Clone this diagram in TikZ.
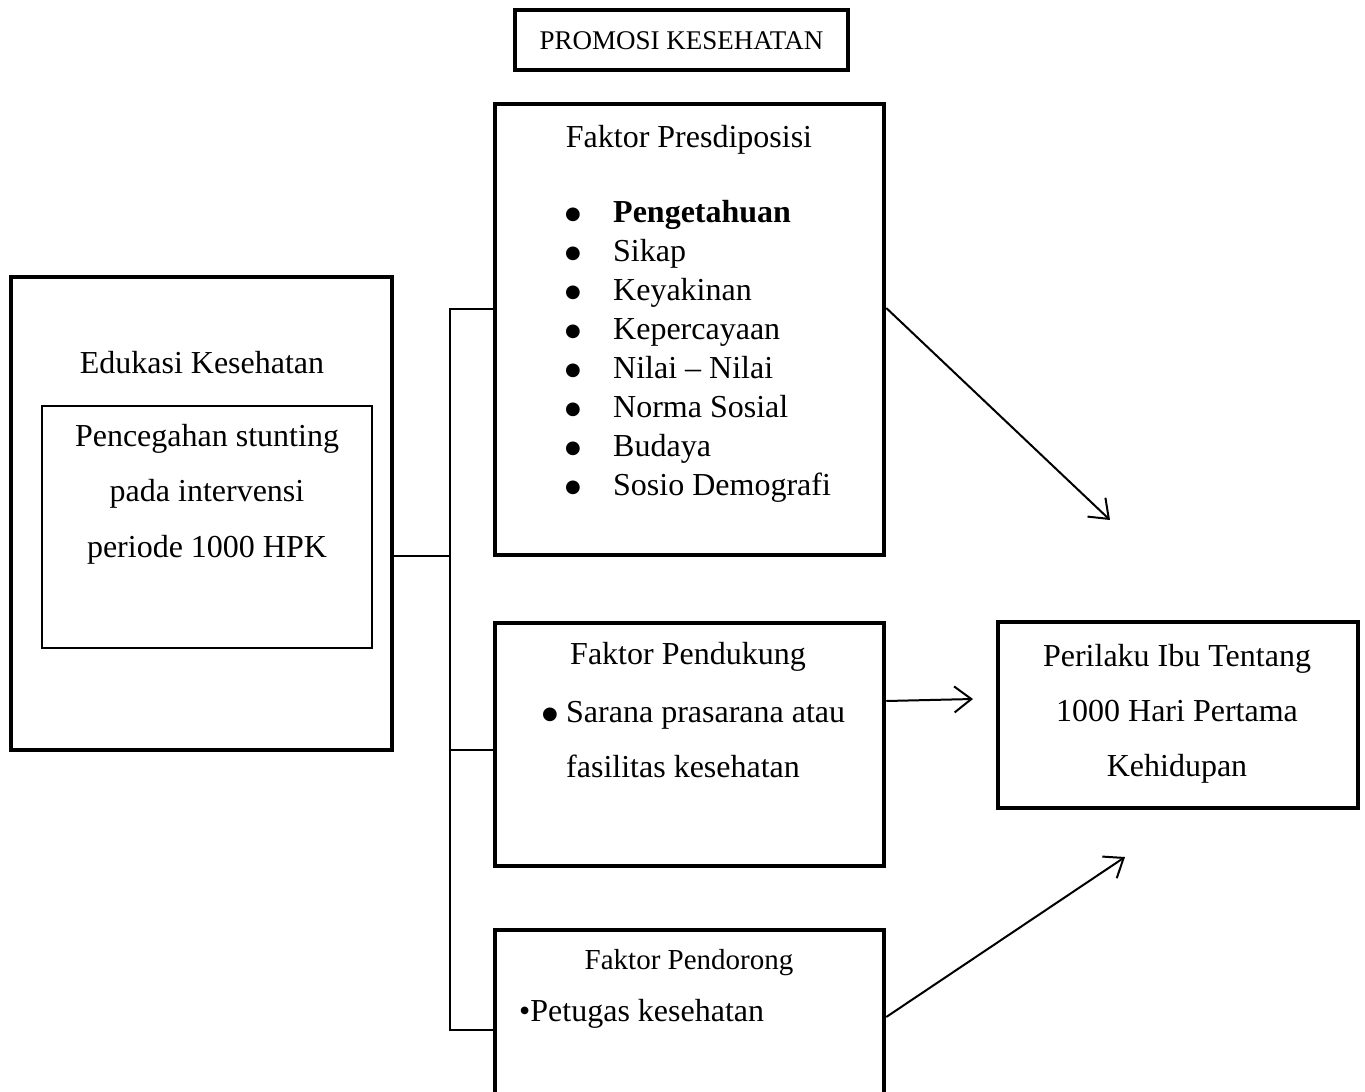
\documentclass[tikz,border=0pt]{standalone}
\usepackage{fontspec}
\setmainfont{Liberation Serif}
\newfontfamily\symfont{DejaVu Sans}
\usetikzlibrary{arrows.meta,calc}
\newcommand\mybul[1]{\makebox[#1][l]{\hspace{-1pt}\raisebox{3pt}{\symfont\fontsize{18}{18}\selectfont ●}}}
\begin{document}
\begin{tikzpicture}[x=1pt,y=-1pt,
  box/.style={draw,line width=4.5pt,inner sep=0pt},
  thinbox/.style={draw,line width=1.2pt,inner sep=0pt},
  conn/.style={line width=1.6pt},
  arr/.style={line width=2pt,-{Straight Barb[length=17pt,width=26pt,line width=2pt]}},
  txt/.style={font=\fontsize{32}{38}\selectfont,inner sep=0pt,anchor=base},
  ltxt/.style={txt,anchor=base west}
]
\useasboundingbox (0,0) rectangle (1365,1092);
\clip (0,0) rectangle (1365,1092);

% boxes
\node[box,minimum width=333pt,minimum height=60pt] (prom) at (681.5,40) {};
\node[box,minimum width=389pt,minimum height=451pt] (pres) at (689.5,329.5) {};
\node[box,minimum width=381pt,minimum height=473pt] (edu) at (201.5,513.5) {};
\node[thinbox,minimum width=330pt,minimum height=242pt] (inner) at (207,527) {};
\node[box,minimum width=389pt,minimum height=243pt] (pend) at (689.5,744.5) {};
\node[box,minimum width=389pt,minimum height=200pt] (pendor) at (689.5,1030) {};
\node[box,minimum width=360pt,minimum height=186pt] (peril) at (1178,715) {};

% texts
\node[txt,font=\fontsize{27}{31}\selectfont] (tprom) at (681.5,49) {PROMOSI KESEHATAN};
\node[txt] (tpres) at (689,147) {Faktor Presdiposisi};
\foreach \t [count=\i from 0] in {{\bfseries Pengetahuan},Sikap,Keyakinan,Kepercayaan,{Nilai – Nilai},{Norma Sosial},Budaya,{Sosio Demografi}}{
  \node[ltxt] (pi\i) at (566,222+39*\i) {\mybul{47pt}\t};
}
\node[txt] (tedu) at (202,373) {Edukasi Kesehatan};
\node[txt] (ti1) at (207,446) {Pencegahan stunting};
\node[txt] (ti2) at (207,501) {pada intervensi};
\node[txt] (ti3) at (207,557) {periode 1000 HPK};
\node[txt] (tpend) at (688,664) {Faktor Pendukung};
\node[ltxt] (pd1) at (543,722) {\mybul{23pt}Sarana prasarana atau};
\node[ltxt] (pd2) at (566,777) {fasilitas kesehatan};
\node[txt,font=\fontsize{29}{34}\selectfont] (tpendor) at (689,969) {Faktor Pendorong};
\node[ltxt] (pdr1) at (519,1021) {\textbullet Petugas kesehatan};
\node[txt] (tp1) at (1177,666) {Perilaku Ibu Tentang};
\node[txt] (tp2) at (1177,721) {1000 Hari Pertama};
\node[txt] (tp3) at (1177,776) {Kehidupan};

% bracket
\coordinate (bt) at (450,309);
\coordinate (bm) at (450,556);
\coordinate (bp) at (450,750);
\coordinate (bb) at (450,1030);
\draw[conn] ([yshift=-42.5pt]edu.east) -- (bm);
\draw[conn] (pres.west |- bt) -- (bt) -- (bb) -- (pendor.west |- bb);
\draw[conn] (bp) -- (bp -| pend.west);

% arrows
\coordinate (e1) at (1110,520);
\coordinate (e2) at (973,699);
\coordinate (e3) at (1125,857);
\draw[arr] ([yshift=21.5pt]pres.east) -- (e1);
\draw[arr] ([yshift=43.5pt]pend.east) -- (e2);
\draw[arr] ([yshift=13pt]pendor.east) -- (e3);
\end{tikzpicture}
\end{document}
